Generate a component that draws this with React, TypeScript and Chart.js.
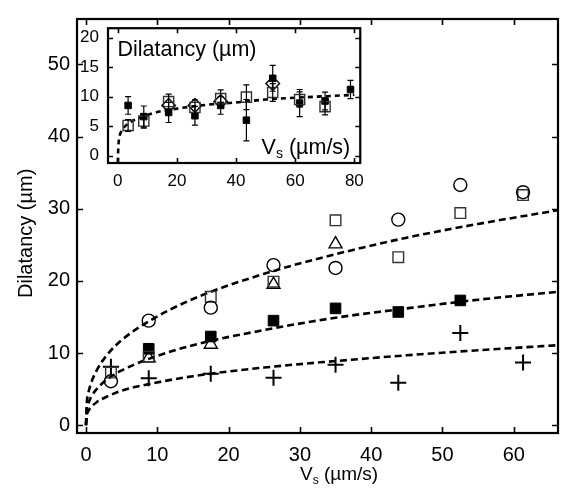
import React, { useEffect, useRef } from "react";
import { Chart, registerables } from "chart.js";
Chart.register(...registerables);

const FONT = "'Liberation Sans', Arial, Helvetica, sans-serif";

// ---------- main plot data ----------
const mainV = [3.5, 8.8, 17.5, 26.3, 35, 43.8, 52.5, 61.3];
const circleD = [6.1, 14.5, 16.3, 22.2, 21.8, 28.5, 33.3, 32.3];
const openSquareD = [7.3, 9.5, 17.8, 19.9, 28.4, 23.3, 29.4, 31.9];
const triangleV = [8.8, 17.5, 26.3, 35];
const triangleD = [9.3, 11.2, 19.5, 25.1];
const filledV = [8.8, 17.5, 26.3, 35, 43.8, 52.5];
const filledD = [10.6, 12.3, 14.5, 16.2, 15.7, 17.3];
const plusD = [8.1, 6.5, 7.15, 6.6, 8.4, 5.9, 12.8, 8.7];

const fitV = [0, 0.1, 0.3, 0.7, 1.5, 3, 5, 8.8, 15, 25, 35, 45, 55, 66.2];
const fitUpper = [0, 2.9, 4.3, 5.8, 7.6, 9.8, 11.8, 14.4, 17.5, 21.0, 23.7, 26.0, 27.9, 29.8];
const fitMiddle = [0, 2.0, 2.9, 3.9, 5.0, 6.4, 7.6, 9.2, 11.1, 13.2, 14.9, 16.2, 17.4, 18.5];
const fitLower = [0, 1.3, 1.9, 2.5, 3.2, 4.0, 4.8, 5.7, 6.8, 8.0, 8.9, 9.7, 10.4, 11.1];

const mainXTicks = [0, 10, 20, 30, 40, 50, 60];
const mainYTicks = [0, 10, 20, 30, 40, 50];

// ---------- inset data ----------
const insetV = [3.5, 8.8, 17.2, 26.1, 34.8, 43.5, 52.4, 61.5, 70.1, 78.7];
const insetFilledD = [8.5, 6.6, 7.3, 6.75, 8.5, 6.0, 13.1, 8.9, 9.25, 11.2];
const insetFilledErr = [1.5, 1.8, 1.7, 1.6, 1.5, 3.5, 2.2, 2.3, 1.5, 1.55];
const insetOpenV = [3.5, 8.8, 17.2, 26.1, 34.8, 43.5, 52.4, 61.5, 70.1];
const insetOpenD = [5.1, 5.85, 9.15, 8.15, 9.65, 9.9, 10.7, 9.5, 8.3];
const insetOpenErr = [1.0, 1.2, 1.25, 1.3, 1.5, 2.1, 1.5, 1.3, 1.4];
const insetDiamondV = [17.2, 26.1, 34.8, 52.4];
const insetDiamondD = [8.5, 8.5, 9.15, 12.2];

const insetFitV = [0, 0.2, 0.5, 1, 2, 4, 7, 12, 20, 30, 40, 50, 60, 70, 80];
const insetFitD = [-1.2, 1.5, 3.0, 3.9, 4.7, 5.6, 6.3, 7.2, 7.95, 8.6, 9.0, 9.5, 9.8, 10.05, 10.3];

const insetXTicks = [0, 20, 40, 60, 80];
const insetYTicks = [0, 5, 10, 15, 20];

const pts = (xs: number[], ys: number[]) => xs.map((x, i) => ({ x, y: ys[i] }));

function drawVs(ctx: CanvasRenderingContext2D, x: number, baseline: number, size: number, align: string) {
  const big = `${size}px ${FONT}`;
  const subSize = Math.round(size * 0.65);
  const small = `${subSize}px ${FONT}`;
  ctx.font = big;
  const w1 = ctx.measureText("V").width;
  const w3 = ctx.measureText(" (µm/s)").width;
  ctx.font = small;
  const w2 = ctx.measureText("s").width;
  const start = align === "right" ? x - (w1 + w2 + w3) : align === "center" ? x - (w1 + w2 + w3) / 2 : x;
  ctx.textAlign = "left";
  ctx.textBaseline = "alphabetic";
  ctx.fillStyle = "#000";
  ctx.font = big;
  ctx.fillText("V", start, baseline);
  ctx.font = small;
  ctx.fillText("s", start + w1, baseline + size * 0.2);
  ctx.font = big;
  ctx.fillText(" (µm/s)", start + w1 + w2, baseline);
}

function framePlugin(id: string, tickLen: number, drawText: (ctx: CanvasRenderingContext2D, chart: any) => void) {
  return {
    id,
    afterDraw(chart: any) {
      const { ctx, chartArea: a, scales } = chart;
      const xs = scales.x;
      const ys = scales.y;
      ctx.save();
      ctx.strokeStyle = "#000";
      ctx.lineWidth = 1.6;
      ctx.beginPath();
      xs.ticks.forEach((t: any) => {
        const px = Math.round(xs.getPixelForValue(t.value)) + 0.5;
        ctx.moveTo(px, a.bottom);
        ctx.lineTo(px, a.bottom - tickLen);
        ctx.moveTo(px, a.top);
        ctx.lineTo(px, a.top + tickLen);
      });
      ys.ticks.forEach((t: any) => {
        const py = Math.round(ys.getPixelForValue(t.value)) + 0.5;
        ctx.moveTo(a.left, py);
        ctx.lineTo(a.left + tickLen, py);
        ctx.moveTo(a.right, py);
        ctx.lineTo(a.right - tickLen, py);
      });
      ctx.stroke();
      ctx.lineWidth = 2.2;
      ctx.strokeRect(a.left, a.top, a.right - a.left, a.bottom - a.top);
      drawText(ctx, chart);
      ctx.restore();
    },
  };
}

const errorBarPlugin = {
  id: "errorBars",
  afterDatasetsDraw(chart: any) {
    const ctx = chart.ctx;
    const ys = chart.scales.y;
    chart.data.datasets.forEach((ds: any, di: number) => {
      const errs = ds.errorBars;
      if (!errs) return;
      const meta = chart.getDatasetMeta(di);
      ctx.save();
      ctx.strokeStyle = "#000";
      ctx.lineWidth = 1.2;
      meta.data.forEach((pt: any, i: number) => {
        const e = errs[i];
        if (!e) return;
        const v = ds.data[i].y;
        const x = pt.x;
        const y1 = ys.getPixelForValue(v + e);
        const y2 = ys.getPixelForValue(v - e);
        ctx.beginPath();
        ctx.moveTo(x, y1);
        ctx.lineTo(x, y2);
        ctx.moveTo(x - 3, y1);
        ctx.lineTo(x + 3, y1);
        ctx.moveTo(x - 3, y2);
        ctx.lineTo(x + 3, y2);
        ctx.stroke();
      });
      ctx.restore();
    });
  },
};

const dashed = (data: any, dash: number[]) => ({
  data,
  showLine: true,
  pointRadius: 0,
  borderColor: "#000",
  borderWidth: 2.6,
  borderDash: dash,
  cubicInterpolationMode: "monotone",
  fill: false,
  order: 10,
});

export default function App() {
  const mainRef = useRef<HTMLCanvasElement>(null);
  const insetRef = useRef<HTMLCanvasElement>(null);

  useEffect(() => {
    const open = "rgba(0,0,0,0)";
    const main = new Chart(mainRef.current as HTMLCanvasElement, {
      type: "scatter",
      data: {
        datasets: [
          dashed(pts(fitV, fitUpper), [7, 4]),
          dashed(pts(fitV, fitMiddle), [7, 4]),
          dashed(pts(fitV, fitLower), [7, 4]),
          { data: pts(mainV, circleD), pointStyle: "circle", pointRadius: 6.5, borderColor: "#000", backgroundColor: open, borderWidth: 1.4 },
          { data: pts(mainV, openSquareD), pointStyle: "rect", pointRadius: 7.5, borderColor: "#333", backgroundColor: open, borderWidth: 1.4 },
          { data: pts(triangleV, triangleD), pointStyle: "triangle", pointRadius: 7.5, borderColor: "#000", backgroundColor: open, borderWidth: 1.4 },
          { data: pts(filledV, filledD), pointStyle: "rect", pointRadius: 7.5, borderColor: "#000", backgroundColor: "#000", borderWidth: 1 },
          { data: pts(mainV, plusD), pointStyle: "cross", pointRadius: 8, borderColor: "#000", backgroundColor: open, borderWidth: 2 },
        ] as any,
      },
      options: {
        responsive: false,
        maintainAspectRatio: false,
        devicePixelRatio: 1,
        animation: false,
        events: [],
        layout: { padding: { top: 6, right: 11, left: 0, bottom: 0 } },
        plugins: { legend: { display: false }, tooltip: { enabled: false } },
        scales: {
          x: {
            type: "linear",
            min: -1.26,
            max: 66.2,
            grid: { display: false, drawTicks: false },
            border: { display: false },
            afterBuildTicks: (s: any) => { s.ticks = mainXTicks.map((v) => ({ value: v })); },
            afterFit: (s: any) => { s.height = 63; },
            ticks: { color: "#000", font: { family: FONT, size: 20 }, padding: 10, maxRotation: 0, callback: (v: any) => String(v) },
          },
          y: {
            type: "linear",
            min: -1.07,
            max: 56.3,
            grid: { display: false, drawTicks: false },
            border: { display: false },
            afterBuildTicks: (s: any) => { s.ticks = mainYTicks.map((v) => ({ value: v })); },
            afterFit: (s: any) => { s.width = 77; },
            ticks: { color: "#000", font: { family: FONT, size: 20 }, padding: 7, callback: (v: any) => String(v) },
          },
        },
      },
      plugins: [
        framePlugin("mainFrame", 6, (ctx, chart) => {
          const a = chart.chartArea;
          drawVs(ctx, a.left + 223, 480, 19, "left");
          ctx.save();
          ctx.translate(32, 298);
          ctx.rotate(-Math.PI / 2);
          ctx.font = `20px ${FONT}`;
          ctx.fillStyle = "#000";
          ctx.textAlign = "left";
          ctx.textBaseline = "alphabetic";
          ctx.fillText("Dilatancy (µm)", 0, 0);
          ctx.restore();
        }),
      ],
    } as any);

    const inset = new Chart(insetRef.current as HTMLCanvasElement, {
      type: "scatter",
      data: {
        datasets: [
          dashed(pts(insetFitV, insetFitD), [5, 4]),
          { data: pts(insetOpenV, insetOpenD), errorBars: insetOpenErr, pointStyle: "rect", pointRadius: 7.2, borderColor: "#333", backgroundColor: open, borderWidth: 1.4 },
          { data: pts(insetDiamondV, insetDiamondD), pointStyle: "rectRot", pointRadius: 6.8, borderColor: "#000", backgroundColor: open, borderWidth: 1.4 },
          { data: pts(insetV, insetFilledD), errorBars: insetFilledErr, pointStyle: "rect", pointRadius: 4.6, borderColor: "#000", backgroundColor: "#000", borderWidth: 1 },
        ] as any,
      },
      options: {
        responsive: false,
        maintainAspectRatio: false,
        devicePixelRatio: 1,
        animation: false,
        events: [],
        layout: { padding: { top: 4, right: 4, left: 0, bottom: 0 } },
        plugins: { legend: { display: false }, tooltip: { enabled: false } },
        scales: {
          x: {
            type: "linear",
            min: -3.3,
            max: 82,
            grid: { display: false, drawTicks: false },
            border: { display: false },
            afterBuildTicks: (s: any) => { s.ticks = insetXTicks.map((v) => ({ value: v })); },
            afterFit: (s: any) => { s.height = 26; },
            ticks: { color: "#000", font: { family: FONT, size: 17 }, padding: 8, maxRotation: 0, callback: (v: any) => String(v) },
          },
          y: {
            type: "linear",
            min: -1.27,
            max: 21.6,
            grid: { display: false, drawTicks: false },
            border: { display: false },
            afterBuildTicks: (s: any) => { s.ticks = insetYTicks.map((v) => ({ value: v })); },
            afterFit: (s: any) => { s.width = 38; },
            ticks: { color: "#000", font: { family: FONT, size: 17 }, padding: 9, callback: (v: any) => String(v) },
          },
        },
      },
      plugins: [
        errorBarPlugin,
        framePlugin("insetFrame", 5, (ctx, chart) => {
          const a = chart.chartArea;
          ctx.font = `21.5px ${FONT}`;
          ctx.fillStyle = "#000";
          ctx.textAlign = "left";
          ctx.textBaseline = "alphabetic";
          ctx.fillText("Dilatancy (µm)", a.left + 9.5, a.top + 27.5);
          drawVs(ctx, a.right - 10, a.bottom - 9, 21.5, "right");
        }),
      ],
    } as any);

    return () => {
      main.destroy();
      inset.destroy();
    };
  }, []);

  return (
    <div style={{ position: "fixed", left: 0, top: 0, width: 569, height: 496, background: "#fff" }}>
      <canvas ref={mainRef} width={569} height={496} style={{ position: "absolute", left: 0, top: 0, width: 569, height: 496 }} />
      <canvas ref={insetRef} width={302} height={180} style={{ position: "absolute", left: 70, top: 9, width: 302, height: 180 }} />
    </div>
  );
}
